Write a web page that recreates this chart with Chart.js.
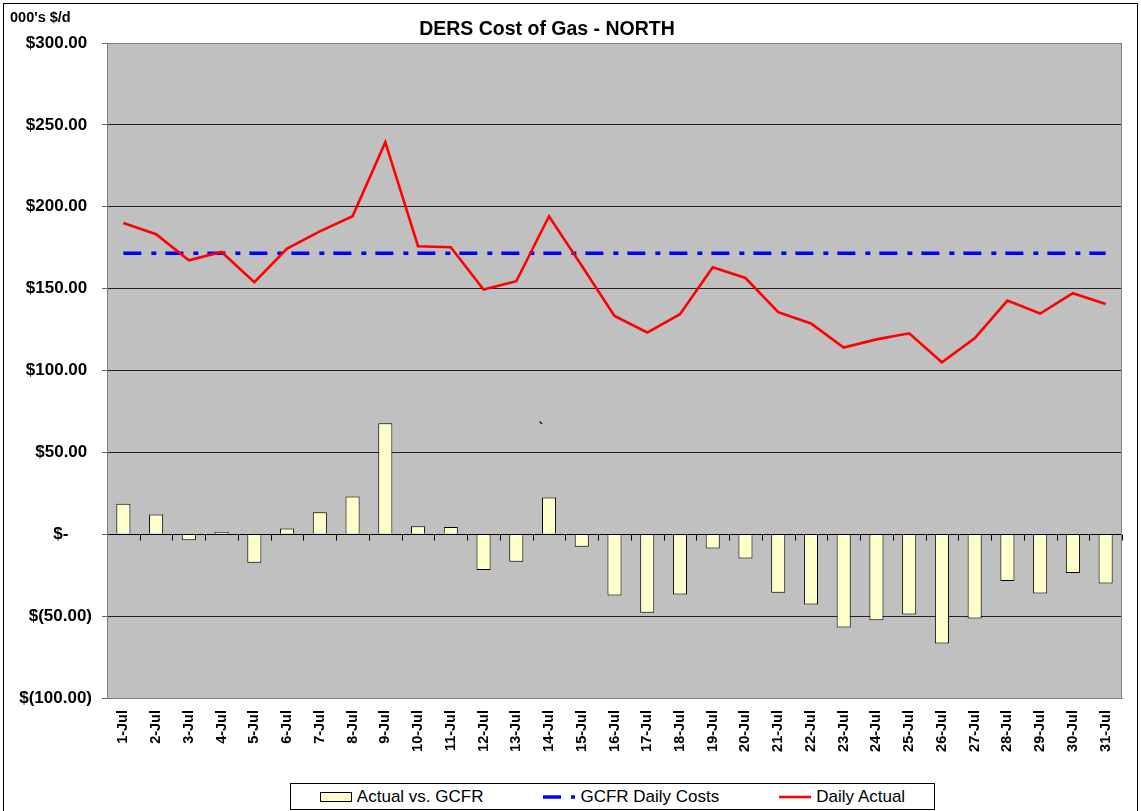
<!DOCTYPE html>
<html>
<head>
<meta charset="utf-8">
<script src="https://cdn.jsdelivr.net/npm/chart.js@4.4.1/dist/chart.umd.min.js"></script>
<style>
  html, body { margin: 0; padding: 0; background: #fff; }
  #wrap { position: relative; width: 1141px; height: 811px; overflow: hidden; }
  #legend {
    position: absolute; left: 290px; top: 783px; width: 643px; height: 25px;
    border: 1px solid #000; background: #fff;
    display: flex; align-items: center; justify-content: center; gap: 60px;
    font: 17px "Liberation Sans", Arial, sans-serif; color: #000;
  }
  .item { display: flex; align-items: center; gap: 5px; white-space: nowrap; }
</style>
</head>
<body>
<div id="wrap">
  <canvas id="graphCost" width="1141" height="811"></canvas>
  <div id="legend"></div>
</div>
<script>
let labelsDays = ['1-Jul','2-Jul','3-Jul','4-Jul','5-Jul','6-Jul','7-Jul','8-Jul','9-Jul','10-Jul',
  '11-Jul','12-Jul','13-Jul','14-Jul','15-Jul','16-Jul','17-Jul','18-Jul','19-Jul','20-Jul',
  '21-Jul','22-Jul','23-Jul','24-Jul','25-Jul','26-Jul','27-Jul','28-Jul','29-Jul','30-Jul','31-Jul'];

// Daily Actual (000's $/d)
let dataActual = [190.1, 183.2, 167.3, 172.4, 153.9, 174.5, 185.0, 194.2, 239.4, 175.9,
  175.3, 149.4, 154.5, 194.2, 164.0, 133.3, 123.2, 134.4, 163.0, 156.5,
  135.6, 128.7, 114.0, 119.0, 122.7, 105.0, 119.7, 142.7, 134.8, 147.2, 140.6];

// GCFR Daily Costs
let dataGCFR = [171.6, 171.6, 171.6, 171.6, 171.6, 171.6, 171.6, 171.6, 171.6, 171.6,
  171.6, 171.6, 171.6, 171.6, 171.6, 171.6, 171.6, 171.6, 171.6, 171.6,
  171.6, 171.6, 171.6, 171.6, 171.6, 171.6, 171.6, 171.6, 171.6, 171.6, 171.6];

// Actual vs. GCFR
let dataVariance = [18.7, 12.0, -3.7, 1.4, -17.4, 3.5, 13.4, 23.0, 67.8, 4.9,
  4.5, -21.8, -16.8, 22.4, -7.7, -37.4, -48.0, -36.8, -8.7, -14.8,
  -35.8, -42.9, -57.0, -52.5, -49.0, -66.7, -51.5, -28.5, -36.2, -23.6, -30.1];

let yTicks = { min: -100, max: 300, step: 50 };

Chart.defaults.font.family = '"Liberation Sans", Arial, sans-serif';
Chart.defaults.color = '#000';

// fondo gris del area de trazado, marco y textos de cabecera
const decorPlugin = {
  id: 'decor',
  beforeDraw(chart) {
    const { ctx, chartArea: a, width, height } = chart;
    ctx.save();
    ctx.fillStyle = '#fff';
    ctx.fillRect(0, 0, width, height);
    ctx.strokeStyle = '#000';
    ctx.lineWidth = 1;
    ctx.strokeRect(3.5, 3.5, width - 7, height + 10);
    ctx.fillStyle = '#C0C0C0';
    ctx.fillRect(a.left, a.top, a.right - a.left, a.bottom - a.top);
    ctx.fillStyle = '#000';
    ctx.font = 'bold 14.5px "Liberation Sans", Arial, sans-serif';
    ctx.textBaseline = 'alphabetic';
    ctx.textAlign = 'left';
    ctx.fillText("000's $/d", 10, 22);
    ctx.font = 'bold 19.5px "Liberation Sans", Arial, sans-serif';
    ctx.textAlign = 'center';
    ctx.fillText('DERS Cost of Gas - NORTH', 547, 35);
    ctx.restore();
  },
  afterDatasetsDraw(chart) {
    const { ctx, chartArea: a, scales } = chart;
    const xs = scales.x, ys = scales.y;
    const y0 = Math.round(ys.getPixelForValue(0)) + 0.5;
    ctx.save();
    ctx.strokeStyle = '#000';
    ctx.lineWidth = 1;
    ctx.beginPath();
    ctx.moveTo(a.left, y0);
    ctx.lineTo(a.right, y0);
    for (let i = 0; i <= labelsDays.length; i++) {
      const x = Math.round(xs.getPixelForValue(i - 0.5)) + 0.5;
      ctx.moveTo(x, y0);
      ctx.lineTo(x, y0 + 6);
    }
    ctx.stroke();
    ctx.strokeStyle = '#808080';
    ctx.strokeRect(a.left + 0.5, a.top + 0.5, a.right - a.left - 1, a.bottom - a.top);
    // marca suelta que aparece en el original
    ctx.fillStyle = '#000';
    ctx.font = 'bold 14px "Liberation Sans", Arial, sans-serif';
    ctx.textAlign = 'center';
    ctx.fillText('`', xs.getPixelForValue(12.75), ys.getPixelForValue(62));
    ctx.restore();
  }
};

// leyenda en HTML con marco
const htmlLegend = {
  id: 'htmlLegend',
  afterUpdate(chart) {
    const box = document.getElementById('legend');
    box.innerHTML = '';
    chart.data.datasets.forEach(function (ds) {
      const item = document.createElement('div');
      item.className = 'item';
      let sample;
      if (ds.type === 'line') {
        sample = document.createElement('canvas');
        sample.width = 32; sample.height = 6;
        const c = sample.getContext('2d');
        c.strokeStyle = ds.borderColor;
        c.lineWidth = ds.borderWidth;
        c.setLineDash(ds.borderDash || []);
        c.beginPath(); c.moveTo(0, 3); c.lineTo(32, 3); c.stroke();
      } else {
        sample = document.createElement('span');
        sample.style.cssText = 'display:inline-block;width:30px;height:8px;border:1px solid #000;background:' + ds.backgroundColor;
      }
      const txt = document.createElement('span');
      txt.textContent = ds.label;
      item.appendChild(sample);
      item.appendChild(txt);
      box.appendChild(item);
    });
  }
};

document.addEventListener('DOMContentLoaded', function () {
  var ctx = document.getElementById('graphCost').getContext('2d');

  var data = {
    labels: labelsDays,
    datasets: [{
      type: 'bar',
      label: 'Actual vs. GCFR',
      data: dataVariance,
      backgroundColor: '#FFFFCC',
      borderColor: '#000',
      borderWidth: 1,
      barPercentage: 0.43,
      categoryPercentage: 1,
      order: 3
    }, {
      type: 'line',
      label: 'GCFR Daily Costs',
      data: dataGCFR,
      borderColor: '#0000FF',
      borderWidth: 3.5,
      borderDash: [18, 10, 5, 9],
      pointRadius: 0,
      tension: 0,
      order: 2
    }, {
      type: 'line',
      label: 'Daily Actual',
      data: dataActual,
      borderColor: '#FF0000',
      borderWidth: 2.6,
      pointRadius: 0,
      tension: 0,
      order: 1
    }]
  };

  var options = {
    responsive: false,
    animation: false,
    layout: { padding: { top: 43, right: 19, left: 0, bottom: 0 } },
    plugins: {
      legend: { display: false },
      title: { display: false },
      tooltip: { enabled: false }
    },
    scales: {
      x: {
        grid: { display: false, drawTicks: false },
        border: { display: true, color: '#808080' },
        ticks: {
          autoSkip: false,
          maxRotation: 90,
          minRotation: 90,
          padding: 12,
          color: '#000',
          font: { size: 14.5, weight: 'bold' }
        },
        afterFit: function (s) { s.height = 113; }
      },
      y: {
        min: yTicks.min,
        max: yTicks.max,
        grid: { color: '#222', tickColor: '#666', tickLength: 5 },
        border: { color: '#808080' },
        ticks: {
          stepSize: yTicks.step,
          padding: 10,
          color: '#000',
          font: { size: 17, weight: 'bold' },
          callback: function (v) {
            if (v === 0) return '$-     ';
            if (v < 0) return '$(' + Math.abs(v).toFixed(2) + ')';
            return '$' + v.toFixed(2) + ' ';
          }
        },
        afterFit: function (s) { s.width = 107; }
      }
    }
  };

  var myChart = new Chart(ctx, {
    type: 'bar',
    data: data,
    options: options,
    plugins: [decorPlugin, htmlLegend]
  });
});
</script>
</body>
</html>
